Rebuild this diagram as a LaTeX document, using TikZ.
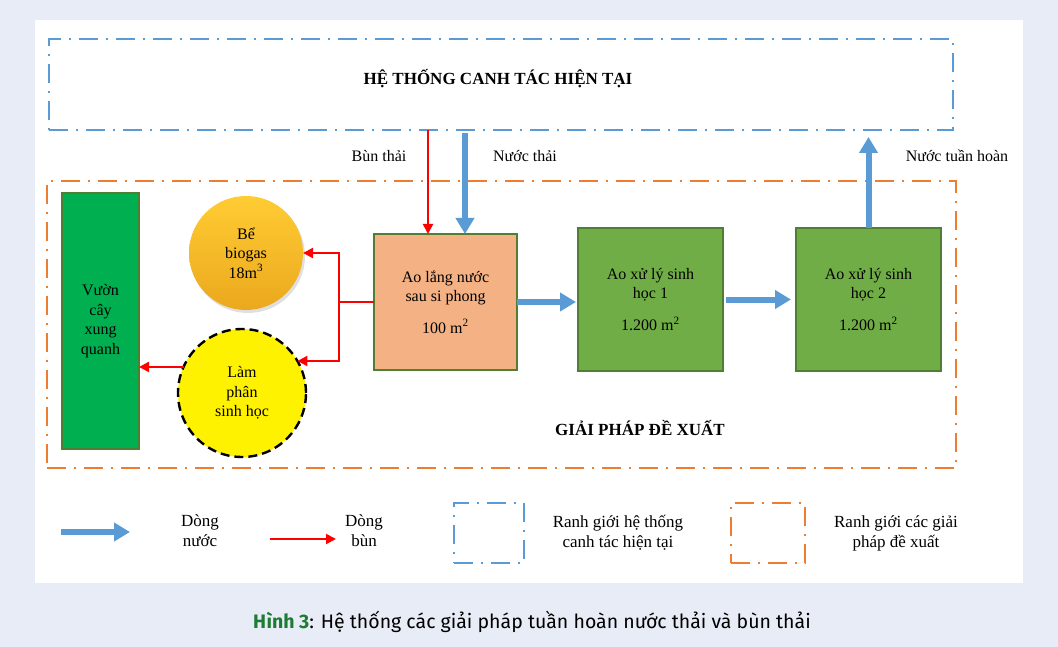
\documentclass[tikz,border=0pt]{standalone}
\usepackage{fontspec}
\setmainfont{Liberation Serif}
\newfontfamily\capfont{Fira Sans}
\usetikzlibrary{arrows.meta,shadows,calc}
\definecolor{bgc}{HTML}{E7ECF6}
\definecolor{bluel}{HTML}{5B9BD5}
\definecolor{orangel}{HTML}{ED7D31}
\definecolor{salmon}{HTML}{F4B183}
\definecolor{gbox}{HTML}{70AD47}
\definecolor{gborder}{HTML}{507E32}
\definecolor{vgreen}{HTML}{00B050}
\definecolor{capgreen}{HTML}{1E7B34}
\definecolor{goldtop}{HTML}{FFCC33}
\definecolor{goldbot}{HTML}{EBA81E}
\tikzset{
  bluebound/.style={draw=bluel, line width=2.6pt, dash pattern=on 19pt off 8pt on 2pt off 8pt},
  orangebound/.style={draw=orangel, line width=2.6pt, dash pattern=on 19pt off 8pt on 2pt off 8pt},
  pond/.style={rectangle, draw=gborder, line width=2pt, outer sep=0pt, align=center,
    font=\fontsize{16}{19.5}\selectfont, inner sep=0pt},
  waterarrow/.style={draw=bluel, line width=6pt, -{Triangle[length=16pt,width=18pt]}},
  sludgearrow/.style={draw=red, line width=2pt, -{Triangle[length=10pt,width=10pt]}},
  txt/.style={font=\fontsize{16}{19.5}\selectfont, align=center, inner sep=0pt},
  legtxt/.style={font=\fontsize{17}{20}\selectfont, align=center, inner sep=0pt},
  bold/.style={font=\fontsize{17}{20}\selectfont\bfseries, inner sep=0pt},
}
\begin{document}
\begin{tikzpicture}[x=1pt,y=-1pt]
\fill[bgc] (0,0) rectangle (1058,647);
\fill[white] (35,20) rectangle (1023,583);
% boundaries
\node[bluebound, rectangle, minimum width=904pt, minimum height=91pt, outer sep=0pt, anchor=north west] (cur) at (49,39) {};
\node[bold] (curtitle) at (498,79) {HỆ THỐNG CANH TÁC HIỆN TẠI};
\node[orangebound, rectangle, minimum width=909pt, minimum height=287pt, outer sep=0pt, anchor=north west] (prop) at (47,181) {};
\node[bold] (proptitle) at (640,428) {GIẢI PHÁP ĐỀ XUẤT};
% ponds
\node[pond, fill=salmon, minimum width=143pt, minimum height=136pt, anchor=north west] (ao) at (374,234)
  {Ao lắng nước\\sau si phong\\[12pt]100 m\textsuperscript{2}};
\node[pond, fill=gbox, minimum width=145pt, minimum height=143pt, anchor=north west] (sh1) at (578,228)
  {Ao xử lý sinh\\học 1\\[12pt]1.200 m\textsuperscript{2}};
\node[pond, fill=gbox, minimum width=145pt, minimum height=143pt, anchor=north west] (sh2) at (796,228)
  {Ao xử lý sinh\\học 2\\[12pt]1.200 m\textsuperscript{2}};
\node[pond, fill=vgreen, draw=gborder, minimum width=77pt, minimum height=256pt, anchor=north west] (vuon) at (62,193)
  {Vườn\\cây\\xung\\quanh};
\node[circle, minimum size=114pt, inner sep=0pt, outer sep=0pt, top color=goldtop, bottom color=goldbot,
  drop shadow={opacity=0.25, shadow xshift=2pt, shadow yshift=-3pt}, txt] (bio) at (246,253)
  {Bể\\biogas\\18m\textsuperscript{3}};
\node[circle, minimum size=128pt, inner sep=0pt, outer sep=0pt, fill=yellow, draw=black, line width=2.4pt,
  dash pattern=on 9pt off 5pt, txt] (lam) at (242,393)
  {Làm\\phân\\sinh học};
% top labels
\node[txt] (lbun) at (379,156) {Bùn thải};
\node[txt] (lnuoc) at (525,156) {Nước thải};
\node[txt] (lth) at (957,156) {Nước tuần hoàn};
% connectors
\coordinate (rx) at (428,0);
\coordinate (bx) at (465,0);
\draw[sludgearrow] (rx |- cur.south) -- (rx |- ao.north);
\draw[waterarrow] ($(bx |- cur.south)+(0,3)$) -- (bx |- ao.north);
\draw[waterarrow] (ao.east) -- ($(ao.east -| sh1.west)+(-2,0)$);
\draw[waterarrow] ($(sh1.east)+(3,0)$) -- ($(sh2.west)+(-5,0)$);
\draw[waterarrow] (sh2.north) -- ($(sh2.north |- cur.south)+(0,7)$);
\coordinate (j) at (339,302);
\draw[red, line width=2pt] (ao.west) -- (j);
\draw[sludgearrow] (j) |- (bio.east);
\draw[sludgearrow] (j) |- (lam.30);
\draw[sludgearrow] (lam.156) -- (lam.156 -| vuon.east);
% legend
\coordinate (la1) at (61,532);
\coordinate (la2) at (130,532);
\draw[waterarrow] (la1) -- (la2);
\node[legtxt] (lg1) at (200,531) {Dòng\\nước};
\coordinate (lr1) at (270,539);
\coordinate (lr2) at (336,539);
\draw[sludgearrow] (lr1) -- (lr2);
\node[legtxt] (lg2) at (364,531) {Dòng\\bùn};
\node[bluebound, rectangle, minimum width=70pt, minimum height=60pt, outer sep=0pt, anchor=north west] (lgb) at (454,503) {};
\node[legtxt] (lg3) at (618,533) {Ranh giới hệ thống\\canh tác hiện tại};
\node[orangebound, rectangle, minimum width=74pt, minimum height=60pt, outer sep=0pt, anchor=north west] (lgo) at (731,503) {};
\node[legtxt] (lg4) at (896,533) {Ranh giới các giải\\pháp đề xuất};
% caption
\node[font=\capfont\fontsize{19.5}{23}\selectfont, inner sep=0pt] (cap) at (532,622)
  {\textcolor{capgreen}{\bfseries Hình 3}: Hệ thống các giải pháp tuần hoàn nước thải và bùn thải};
\end{tikzpicture}
\end{document}
